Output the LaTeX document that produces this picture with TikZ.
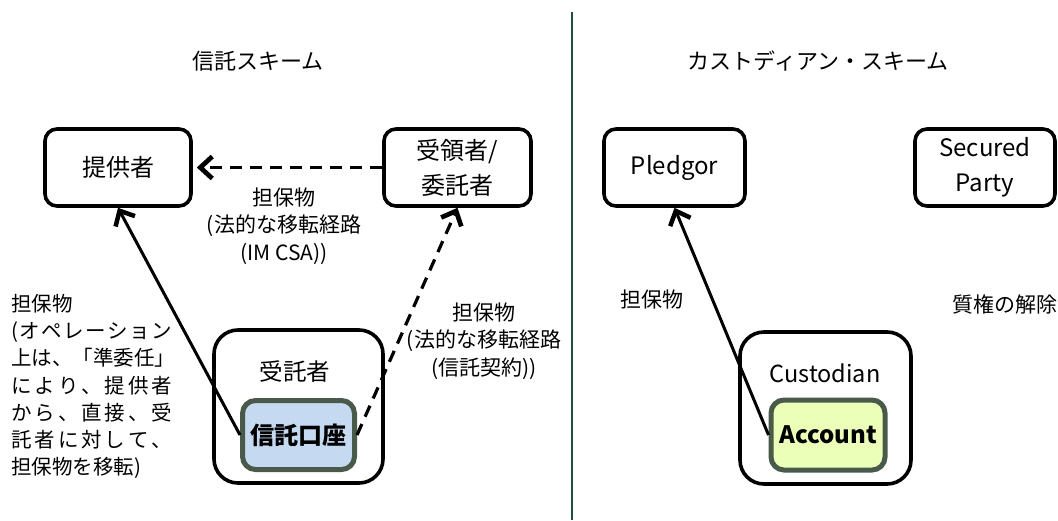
\documentclass[tikz,border=0pt]{standalone}
\usepackage{fontspec}
\setmainfont{Noto Sans CJK JP}
\usetikzlibrary{arrows.meta}
\definecolor{divg}{HTML}{1E4D3A}
\definecolor{kouzafill}{HTML}{C5D9F1}
\definecolor{acctfill}{HTML}{EBFFB8}
\definecolor{innerline}{HTML}{4A5A4A}
\newcommand\spreadline[1]{\makebox[161pt][s]{#1}}
\begin{document}
\begin{tikzpicture}[x=1pt,y=-1pt,
  box/.style={draw, line width=3.6pt, rounded corners=12pt, align=center, inner sep=0pt, font=\fontsize{24}{35}\selectfont},
  bigbox/.style={draw, line width=3.6pt, rounded corners=24pt, inner sep=0pt},
  inbox/.style={draw=innerline, line width=5pt, rounded corners=13pt, inner sep=0pt, font=\bfseries\fontsize{24}{28}\selectfont},
  boxtext/.style={inner sep=0pt, font=\fontsize{23.5}{28}\selectfont},
  lbl/.style={inner sep=0pt, align=center, font=\fontsize{21}{27.5}\selectfont},
  ttl/.style={inner sep=0pt, font=\fontsize{22}{26}\selectfont},
  arr/.style={line width=3pt, -{Straight Barb[length=12pt,width=22pt,line width=1.5pt 1]}},
  darr/.style={arr, line width=3.2pt, dash pattern=on 12pt off 8pt}]
\useasboundingbox (0,0) rectangle (1058,520);
\fill[white] (0,0) rectangle (1058,520);
% divider
\draw[divg, line width=2pt] (572,12) -- (572,520);
% titles
\node[ttl] (t1) at (258,61) {信託スキーム};
\node[ttl] (t2) at (818,61) {カストディアン・スキーム};
% left scheme
\node[box, minimum width=146pt, minimum height=77pt] (teikyo) at (118,167.5) {提供者};
\node[box, minimum width=147pt, minimum height=77pt] (juryo) at (457.5,167.5) {受領者/\\委託者};
\node[bigbox, minimum width=169pt, minimum height=153pt] (jutaku) at (298.5,406.5) {};
\node[boxtext] (jutakut) at (295,372) {受託者};
\node[inbox, fill=kouzafill, minimum width=112pt, minimum height=69pt] (kouza) at (298.5,435) {信託口座};
\node[lbl] (lblmid) at (284,226) {担保物\\(法的な移転経路\\(IM CSA))};
\node[lbl] (lblright) at (484,341) {担保物\\(法的な移転経路\\(信託契約))};
\node[inner sep=0pt, align=left, anchor=west, font=\fontsize{20.5}{27.2}\selectfont] (lnote) at (11,386.5)
 {担保物\\
  \spreadline{(\hfil オ\hfil ペ\hfil レ\hfil ー\hfil シ\hfil ョ\hfil ン}\\
  \spreadline{上\hfil は\hfil 、\hfil 「\hfil 準\hfil 委\hfil 任\hfil 」}\\
  \spreadline{に\hfil よ\hfil り\hfil 、\hfil 提\hfil 供\hfil 者}\\
  \spreadline{か\hfil ら\hfil 、\hfil 直\hfil 接\hfil 、\hfil 受}\\
  \spreadline{託\hfil 者\hfil に\hfil 対\hfil し\hfil て\hfil 、}\\
  担保物を移転)};
\draw[darr, shorten >=4pt] (juryo.west) -- (teikyo.east);
\draw[arr] (kouza.west) -- (teikyo.south);
\draw[darr] (kouza.east) -- (juryo.south);
% right scheme
\node[box, minimum width=141pt, minimum height=77pt] (pledgor) at (674.5,167.5) {Pledgor};
\node[box, minimum width=140pt, minimum height=77pt] (secured) at (985,167.5) {Secured\\Party};
\node[bigbox, minimum width=171pt, minimum height=152pt] (cust) at (825.5,408) {};
\node[boxtext] (custt) at (825,373) {Custodian};
\node[inbox, fill=acctfill, minimum width=114pt, minimum height=70pt] (account) at (828,435) {Account};
\node[lbl] (lblpl) at (652,300) {担保物};
\node[lbl, anchor=east] (lblrel) at (1058,304) {質権の解除};
\draw[arr] (account.west) -- (pledgor.south);
\end{tikzpicture}
\end{document}
